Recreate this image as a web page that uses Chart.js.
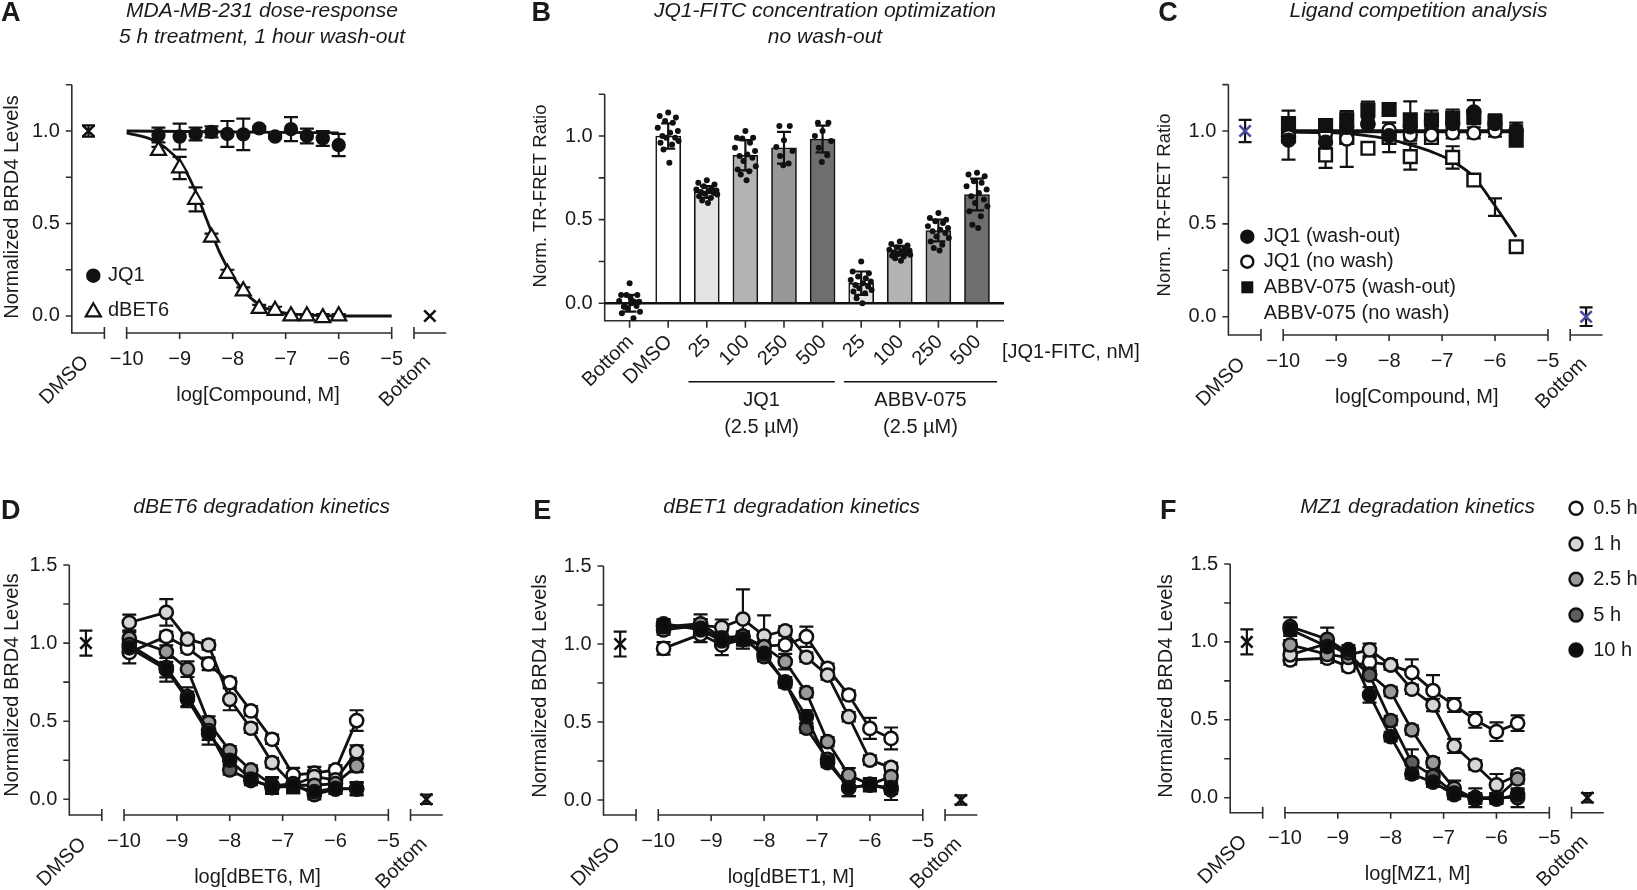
<!DOCTYPE html>
<html lang="en">
<head>
<meta charset="UTF-8">
<title>BRD4 degradation and TR-FRET panels</title>
<script src="https://cdn.jsdelivr.net/npm/chart.js"></script>
<style>
  body { margin: 0; background: #fff; }
  #page { position: relative; width: 1637px; height: 890px; background: #fff; overflow: hidden; }
  #page canvas { position: absolute; left: 0; top: 0; }
</style>
</head>
<body>
<div id="page">
  <canvas id="chartA" width="1637" height="890"></canvas>
  <canvas id="chartB" width="1637" height="890"></canvas>
  <canvas id="chartC" width="1637" height="890"></canvas>
  <canvas id="chartD" width="1637" height="890"></canvas>
  <canvas id="chartE" width="1637" height="890"></canvas>
  <canvas id="chartF" width="1637" height="890"></canvas>
</div>
<script>
// ---------------- data ----------------
// panel A
const aConc = [-9.4, -9.0, -8.7, -8.4, -8.1, -7.8, -7.5, -7.2, -6.9, -6.6, -6.3, -6.0];
const aJQ1 = [0.978, 0.97, 0.984, 0.995, 0.984, 0.982, 1.014, 0.97, 1.01, 0.973, 0.96, 0.924];
const aJQ1Err = [0.04, 0.07, 0.035, 0.03, 0.07, 0.085, 0.01, 0.01, 0.065, 0.04, 0.04, 0.06];
const aDBET6 = [0.894, 0.80, 0.63, 0.425, 0.23, 0.135, 0.04, 0.03, 0.0, 0.0, -0.01, 0.0];
const aDBET6Err = [0.02, 0.06, 0.065, 0.02, 0.02, 0.02, 0.02, 0.02, 0.01, 0.01, 0.02, 0.01];
const aFitJQ1X = [-10, -6];
const aFitJQ1Y = [1.0, 0.99];
const aFitDX = [-10, -9.5, -8.99, -8.74, -8.49, -8.24, -7.99, -7.67, -7.36, -6.98, -6.1, -5.0];
const aFitDY = [0.99, 0.95, 0.83, 0.70, 0.52, 0.34, 0.21, 0.10, 0.04, 0.015, 0.0, 0.0];
const aCtrl = [1.0, 0.0];
const aCtrlErr = [0.03, 0.0];

// panel B
const bLabels = ['Bottom', 'DMSO', '25', '100', '250', '500', '25', '100', '250', '500'];
const bMeans = [0.0, 1.0, 0.665, 0.885, 0.93, 0.982, 0.12, 0.315, 0.435, 0.65];
const bSD = [0.05, 0.075, 0.035, 0.09, 0.095, 0.08, 0.07, 0.028, 0.065, 0.095];
const dotsBottom = [0.12, 0.05, 0.05, 0.05, 0.01, 0.014, 0.01, 0.0, -0.02, -0.016, -0.03, -0.05, -0.06, -0.09, -0.02, 0.03];
const dotsDMSO = [1.14, 1.12, 1.11, 1.09, 1.08, 1.05, 1.03, 1.02, 1.0, 0.99, 0.99, 0.97, 0.96, 0.95, 0.92, 0.84];
const dotsJQ25 = [0.735, 0.72, 0.71, 0.70, 0.69, 0.68, 0.675, 0.67, 0.665, 0.66, 0.655, 0.65, 0.64, 0.63, 0.615, 0.60];
const dotsJQ100 = [1.03, 0.99, 0.99, 0.985, 0.96, 0.93, 0.91, 0.89, 0.88, 0.87, 0.85, 0.82, 0.80, 0.79, 0.77, 0.735];
const dotsJQ250 = [1.06, 1.06, 0.975, 0.935, 0.91, 0.88, 0.835, 0.825];
const dotsJQ500 = [1.08, 1.08, 1.03, 1.0, 0.97, 0.93, 0.885, 0.845];
const dotsAB25 = [0.25, 0.19, 0.18, 0.16, 0.15, 0.14, 0.13, 0.12, 0.11, 0.10, 0.09, 0.08, 0.07, 0.06, 0.03, 0.0];
const dotsAB100 = [0.37, 0.355, 0.345, 0.335, 0.33, 0.32, 0.315, 0.31, 0.305, 0.30, 0.295, 0.29, 0.285, 0.28, 0.27, 0.255];
const dotsAB250 = [0.54, 0.51, 0.50, 0.49, 0.48, 0.46, 0.45, 0.44, 0.43, 0.42, 0.40, 0.39, 0.37, 0.35, 0.33, 0.315];
const dotsAB500 = [0.78, 0.77, 0.76, 0.73, 0.72, 0.70, 0.68, 0.66, 0.64, 0.62, 0.60, 0.58, 0.55, 0.52, 0.47, 0.45];

// panel C
const cConc = [-9.9, -9.2, -8.8, -8.4, -8.0, -7.6, -7.2, -6.8, -6.4, -6.0, -5.6];
const cJQ1w = [0.951, 0.94, 1.02, 1.04, 0.975, 1.023, 1.05, 1.04, 1.103, 1.04, 1.005];
const cJQ1wErr = [0.105, 0.03, 0.03, 0.04, 0.03, 0.03, 0.03, 0.03, 0.063, 0.04, 0.04];
const cJQ1n = [0.97, 0.99, 0.957, 1.035, 1.005, 0.978, 0.978, 0.99, 0.99, 1.0, 1.0];
const cJQ1nErr = [0.03, 0.03, 0.15, 0.04, 0.04, 0.03, 0.03, 0.03, 0.03, 0.03, 0.03];
const cABw = [1.04, 1.03, 1.06, 1.113, 1.116, 1.06, 1.06, 1.07, 1.077, 1.05, 0.95];
const cABwErr = [0.07, 0.03, 0.045, 0.045, 0.03, 0.1, 0.05, 0.046, 0.04, 0.04, 0.03];
const cABn = [0.975, 0.871, 0.965, 0.907, 0.966, 0.862, 0.965, 0.858, 0.736, 0.59, 0.377];
const cABnErr = [0.03, 0.07, 0.03, 0.03, 0.08, 0.07, 0.03, 0.06, 0.02, 0.047, 0.02];
const cFitFlatX = [-10, -5.6];
const cFitJQ1w = [1.0, 1.0];
const cFitJQ1n = [0.995, 0.995];
const cFitABw = [1.0, 1.0];
const cFitABnX = [-10, -9.4, -8.87, -8.36, -7.98, -7.6, -7.17, -6.79, -6.41, -6.03, -5.6];
const cFitABnY = [0.995, 0.992, 0.988, 0.973, 0.955, 0.925, 0.885, 0.835, 0.755, 0.61, 0.43];
const cCtrl = [1.0, 0.0];
const cCtrlErr = [0.06, 0.05];

// panels D-F (kinetics)
const kinConc = [-9.9, -9.2, -8.8, -8.4, -8.0, -7.6, -7.2, -6.8, -6.4, -6.0, -5.6];
const kinTimes = ['0.5 h', '1 h', '2.5 h', '5 h', '10 h'];
const d05 = [0.94, 1.043, 0.968, 0.867, 0.747, 0.566, 0.384, 0.156, 0.167, 0.188, 0.504];
const d1 = [1.132, 1.197, 1.025, 0.988, 0.64, 0.455, 0.235, 0.092, 0.145, 0.124, 0.305];
const d25 = [1.03, 0.946, 0.833, 0.491, 0.31, 0.188, 0.092, 0.09, 0.09, 0.10, 0.214];
const d5 = [0.99, 0.843, 0.657, 0.44, 0.188, 0.12, 0.085, 0.10, 0.03, 0.065, 0.07];
const d10 = [0.97, 0.83, 0.64, 0.42, 0.25, 0.13, 0.075, 0.085, 0.05, 0.07, 0.065];
const d05Err = [0.07, 0.03, 0.03, 0.04, 0.03, 0.03, 0.03, 0.045, 0.04, 0.03, 0.066];
const d1Err = [0.05, 0.085, 0.03, 0.03, 0.07, 0.03, 0.03, 0.04, 0.04, 0.03, 0.04];
const d25Err = [0.04, 0.04, 0.05, 0.04, 0.03, 0.03, 0.05, 0.05, 0.03, 0.03, 0.04];
const d5Err = [0.04, 0.09, 0.06, 0.06, 0.03, 0.03, 0.05, 0.06, 0.03, 0.03, 0.04];
const d10Err = [0.04, 0.05, 0.05, 0.07, 0.03, 0.03, 0.03, 0.03, 0.03, 0.03, 0.04];
const dCtrl = [1.0, 0.0];
const dCtrlErr = [0.08, 0.03];

const e05 = [0.972, 1.062, 0.994, 1.03, 0.987, 0.994, 1.047, 0.844, 0.673, 0.459, 0.395];
const e1 = [1.09, 1.12, 1.107, 1.16, 1.053, 1.085, 0.915, 0.801, 0.534, 0.256, 0.209];
const e25 = [1.11, 1.13, 1.04, 1.05, 0.983, 0.887, 0.688, 0.374, 0.16, 0.10, 0.15];
const e5 = [1.12, 1.10, 1.03, 1.05, 0.919, 0.758, 0.46, 0.261, 0.075, 0.10, 0.065];
const e10 = [1.13, 1.09, 1.02, 1.03, 0.94, 0.75, 0.534, 0.24, 0.08, 0.095, 0.08];
const e05Err = [0.04, 0.05, 0.065, 0.04, 0.03, 0.03, 0.065, 0.03, 0.03, 0.067, 0.07];
const e1Err = [0.03, 0.04, 0.05, 0.19, 0.13, 0.03, 0.03, 0.03, 0.03, 0.03, 0.03];
const e25Err = [0.03, 0.06, 0.04, 0.03, 0.03, 0.05, 0.03, 0.03, 0.045, 0.03, 0.04];
const e5Err = [0.03, 0.06, 0.03, 0.03, 0.03, 0.03, 0.03, 0.03, 0.05, 0.04, 0.065];
const e10Err = [0.03, 0.04, 0.03, 0.03, 0.03, 0.03, 0.04, 0.03, 0.055, 0.04, 0.04];
const eCtrl = [1.0, 0.0];
const eCtrlErr = [0.08, 0.03];

const f05 = [0.884, 0.895, 0.841, 0.87, 0.852, 0.803, 0.687, 0.595, 0.499, 0.424, 0.478];
const f1 = [0.917, 0.99, 0.917, 0.949, 0.852, 0.696, 0.595, 0.332, 0.21, 0.082, 0.146];
const f25 = [0.981, 0.92, 0.90, 0.794, 0.681, 0.435, 0.225, 0.06, -0.01, 0.0, 0.12];
const f5 = [1.098, 1.017, 0.93, 0.788, 0.495, 0.225, 0.139, 0.03, 0.0, 0.0, 0.0];
const f10 = [1.08, 0.97, 0.95, 0.66, 0.392, 0.152, 0.10, 0.02, 0.0, -0.01, 0.02];
const f05Err = [0.03, 0.03, 0.03, 0.03, 0.03, 0.085, 0.1, 0.045, 0.05, 0.06, 0.05];
const f1Err = [0.03, 0.03, 0.03, 0.04, 0.03, 0.03, 0.04, 0.045, 0.03, 0.07, 0.03];
const f25Err = [0.03, 0.03, 0.06, 0.03, 0.03, 0.03, 0.03, 0.05, 0.03, 0.03, 0.03];
const f5Err = [0.06, 0.075, 0.03, 0.03, 0.03, 0.085, 0.03, 0.03, 0.06, 0.03, 0.06];
const f10Err = [0.03, 0.03, 0.03, 0.05, 0.03, 0.03, 0.03, 0.03, 0.03, 0.03, 0.03];
const fCtrl = [1.0, 0.0];
const fCtrlErr = [0.08, 0.03];

const xTickVals = [-10, -9, -8, -7, -6, -5];

// ---------------- layout / style ----------------
const PAGE_W = 1637, PAGE_H = 890;
const FONT = '"Liberation Sans", Arial, Helvetica, sans-serif';
const INK = '#1a1a1a';
const AXIS = '#2e2e2e';
// broken x axis (log units): DMSO block, -10..-5, Bottom block
const SEG = { min: -11.035, max: -3.97, dmsoEnd: -10.42, botStart: -4.58, dmsoX: -10.72, botX: -4.28 };
const kinFill = ['#ffffff', '#d6d6d6', '#9a9a9a', '#5e5e5e', '#0c0c0c'];
const jit16 = [0.0, -0.22, 0.2, -0.08, 0.12, -0.27, 0.25, 0.05, -0.15, 0.18, -0.05, 0.27, -0.2, 0.1, -0.12, 0.03];
const jit8 = [-0.12, 0.15, 0.0, -0.2, 0.22, -0.1, 0.12, -0.02];

const pts = (xs, ys) => xs.map((x, i) => ({ x: x, y: ys[i] }));

function text(ctx, s, x, y, o) {
  o = o || {};
  ctx.save();
  ctx.font = (o.style || 'normal') + ' ' + (o.weight || 'normal') + ' ' + (o.size || 20) + 'px ' + FONT;
  ctx.fillStyle = o.color || INK;
  ctx.textAlign = o.align || 'center';
  ctx.textBaseline = o.base || 'middle';
  ctx.translate(x, y);
  if (o.rot) ctx.rotate(o.rot);
  ctx.fillText(s, 0, 0);
  ctx.restore();
}

function drawErrors(chart) {
  const ctx = chart.ctx, xs = chart.scales.x, ys = chart.scales.y;
  chart.data.datasets.forEach(ds => {
    if (!ds.err) return;
    ctx.save();
    ctx.strokeStyle = '#111';
    ctx.lineWidth = ds.errWidth || 2.2;
    const w = ds.capW || 7;
    ds.data.forEach((p, i) => {
      const e = ds.err[i];
      if (!e) return;
      const x = xs.getPixelForValue(p.x);
      const y1 = ys.getPixelForValue(p.y + e), y2 = ys.getPixelForValue(p.y - e);
      ctx.beginPath();
      ctx.moveTo(x, y1); ctx.lineTo(x, y2);
      ctx.moveTo(x - w, y1); ctx.lineTo(x + w, y1);
      ctx.moveTo(x - w, y2); ctx.lineTo(x + w, y2);
      ctx.stroke();
    });
    ctx.restore();
  });
}

function yAxis(chart, yMax) {
  const ctx = chart.ctx, a = chart.chartArea, ys = chart.scales.y;
  ctx.save();
  ctx.strokeStyle = AXIS; ctx.lineWidth = 1.6;
  ctx.beginPath();
  ctx.moveTo(a.left, a.top); ctx.lineTo(a.left, a.bottom + 0.8);
  for (let k = 0; k * 0.25 <= yMax + 1e-6; k++) {
    const y = ys.getPixelForValue(k * 0.25);
    ctx.moveTo(a.left - 6, y); ctx.lineTo(a.left, y);
  }
  ctx.stroke();
  ctx.restore();
}

function yLabels(chart, yMax) {
  const a = chart.chartArea, ys = chart.scales.y;
  for (let k = 0; k * 0.5 <= yMax + 1e-6; k++) {
    text(chart.ctx, (k * 0.5).toFixed(1), a.left - 12, ys.getPixelForValue(k * 0.5), { align: 'right' });
  }
}

function headings(ctx, g) {
  text(ctx, g.letter, g.letterX, g.letterY, { weight: 'bold', size: 27, align: 'left', base: 'alphabetic' });
  g.title.forEach((t, i) => text(ctx, t, g.titleX, g.titleY + i * 26, { style: 'italic', size: 21, base: 'alphabetic' }));
  text(ctx, g.yTitle, g.yTitleX, g.yTitleY, { rot: -Math.PI / 2, size: g.yTitleSize || 20 });
}

function doseDecor(g) {
  return {
    id: 'doseDecor',
    beforeDatasetsDraw(chart) {
      const ctx = chart.ctx, a = chart.chartArea, xs = chart.scales.x;
      const px = v => xs.getPixelForValue(v);
      yAxis(chart, g.yMax);
      const b = a.bottom;
      ctx.save();
      ctx.strokeStyle = AXIS; ctx.lineWidth = 1.6;
      ctx.beginPath();
      ctx.moveTo(a.left, b); ctx.lineTo(px(SEG.dmsoEnd), b);
      ctx.moveTo(px(-10), b); ctx.lineTo(px(-5), b);
      ctx.moveTo(px(SEG.botStart), b); ctx.lineTo(a.right, b);
      [SEG.dmsoEnd, -10, -5, SEG.botStart].forEach(v => { ctx.moveTo(px(v), b - 6); ctx.lineTo(px(v), b + 6); });
      [-9, -8, -7, -6].forEach(v => { ctx.moveTo(px(v), b); ctx.lineTo(px(v), b + 6); });
      ctx.stroke();
      ctx.restore();
      drawErrors(chart);
    },
    afterDraw(chart) {
      const ctx = chart.ctx, a = chart.chartArea, xs = chart.scales.x;
      const px = v => xs.getPixelForValue(v);
      const b = a.bottom;
      yLabels(chart, g.yMax);
      xTickVals.forEach(t => text(ctx, '\u2212' + Math.abs(t), px(t), b + 26));
      const rot = -Math.PI / 4;
      text(ctx, 'DMSO', (a.left + px(SEG.dmsoEnd)) / 2 - 2.5, b + 26, { align: 'right', rot: rot });
      text(ctx, 'Bottom', (px(SEG.botStart) + a.right) / 2 - 2.5, b + 26, { align: 'right', rot: rot });
      text(ctx, g.xTitle, g.xTitleX, b + 62);
      headings(ctx, g);
      if (g.legend) g.legend(ctx);
    }
  };
}

function doseChart(id, g, datasets) {
  const bx = g.box;
  return new Chart(document.getElementById(id), {
    type: 'scatter',
    data: { datasets: datasets },
    options: {
      responsive: false, animation: false, events: [],
      layout: { padding: { left: bx[0], top: bx[1], right: PAGE_W - bx[2], bottom: PAGE_H - bx[3] } },
      plugins: { legend: { display: false }, tooltip: { enabled: false } },
      scales: {
        x: { type: 'linear', min: SEG.min, max: SEG.max, display: false },
        y: { type: 'linear', min: g.yMin, max: g.yMax, display: false }
      }
    },
    plugins: [doseDecor(g)]
  });
}

function markers(xs, ys, err, style) {
  return Object.assign({
    data: pts(xs, ys), err: err, showLine: false, clip: false, order: 1,
    pointRadius: 6, pointBorderWidth: 2.4, pointBorderColor: '#111', pointBackgroundColor: '#111'
  }, style);
}
function curve(xs, ys, style) {
  return Object.assign({
    data: pts(xs, ys), showLine: true, pointRadius: 0, borderColor: '#111', borderWidth: 2.8,
    cubicInterpolationMode: 'monotone', clip: false, order: 6
  }, style);
}
function controls(vals, err, color) {
  return {
    data: [{ x: SEG.dmsoX, y: vals[0] }, { x: SEG.botX, y: vals[1] }], err: err, capW: 6.5,
    showLine: false, clip: false, order: 0, pointStyle: 'crossRot', pointRadius: 8,
    pointBorderWidth: 2.6, pointBorderColor: color || '#111', pointBackgroundColor: 'rgba(0,0,0,0)'
  };
}
function kinetics(series, errs, ctrl, ctrlErr) {
  const sets = series.map((ys, k) => ({
    data: pts(kinConc, ys), err: errs[k], showLine: true, clip: false, order: 5 - k,
    borderColor: '#111', borderWidth: 2.8, pointRadius: 6.6, pointBorderWidth: 2.5,
    pointBorderColor: '#111', pointBackgroundColor: kinFill[k], label: kinTimes[k]
  }));
  sets.push(controls(ctrl, ctrlErr));
  return sets;
}

function legendCircle(ctx, x, y, r, fill) {
  ctx.save();
  ctx.beginPath(); ctx.arc(x, y, r, 0, Math.PI * 2);
  ctx.fillStyle = fill; ctx.fill();
  ctx.lineWidth = 2.4; ctx.strokeStyle = '#111'; ctx.stroke();
  ctx.restore();
}

// ---------------- panel A ----------------
doseChart('chartA', {
  box: [71.8, 84.75, 446.3, 333], yMin: -0.092, yMax: 1.25,
  letter: 'A', letterX: 1, letterY: 21, title: ['MDA-MB-231 dose-response', '5 h treatment, 1 hour wash-out'],
  titleX: 262, titleY: 17, yTitle: 'Normalized BRD4 Levels', yTitleX: 12, yTitleY: 207,
  xTitle: 'log[Compound, M]', xTitleX: 258,
  legend(ctx) {
    legendCircle(ctx, 93.3, 275.7, 6, '#111');
    text(ctx, 'JQ1', 108, 275.7, { align: 'left' });
    ctx.save();
    ctx.beginPath();
    const r = 8.7, cx = 93.3, cy = 312;
    ctx.moveTo(cx, cy - r); ctx.lineTo(cx + r * 0.866, cy + r / 2); ctx.lineTo(cx - r * 0.866, cy + r / 2); ctx.closePath();
    ctx.fillStyle = '#fff'; ctx.fill(); ctx.lineWidth = 2.2; ctx.strokeStyle = '#111'; ctx.stroke();
    ctx.restore();
    text(ctx, 'dBET6', 108, 310, { align: 'left' });
  }
}, [
  markers(aConc, aJQ1, aJQ1Err, { pointRadius: 6 }),
  markers(aConc, aDBET6, aDBET6Err, { pointStyle: 'triangle', pointRadius: 8.7, pointBorderWidth: 2.2, pointBackgroundColor: '#fff' }),
  curve(aFitJQ1X, aFitJQ1Y),
  curve(aFitDX, aFitDY),
  controls(aCtrl, aCtrlErr)
]);

// ---------------- panel B ----------------
(function () {
  const groups = [dotsBottom, dotsDMSO, dotsJQ25, dotsJQ100, dotsJQ250, dotsJQ500, dotsAB25, dotsAB100, dotsAB250, dotsAB500];
  const dots = [];
  groups.forEach((g, i) => g.forEach((v, j) => dots.push({ x: i + (g.length > 8 ? jit16[j] : jit8[j]), y: v })));
  const bFill = ['#ffffff', '#ffffff', '#e3e3e3', '#b3b3b3', '#989898', '#6e6e6e', '#e3e3e3', '#b3b3b3', '#989898', '#6e6e6e'];
  const box = [604.7, 94.2, 1004, 320.7];
  new Chart(document.getElementById('chartB'), {
    type: 'bar',
    data: {
      datasets: [
        { type: 'bar', data: bMeans.map((v, i) => ({ x: i, y: v })), err: bSD, capW: 7,
          backgroundColor: bFill, borderColor: '#111', borderWidth: 1.6, barThickness: 25, order: 2 },
        { type: 'scatter', data: dots, pointRadius: 3, pointBorderWidth: 0, pointBackgroundColor: '#111', order: 1, clip: false }
      ]
    },
    options: {
      responsive: false, animation: false, events: [],
      layout: { padding: { left: box[0], top: box[1], right: PAGE_W - box[2], bottom: PAGE_H - box[3] } },
      plugins: { legend: { display: false }, tooltip: { enabled: false } },
      scales: {
        x: { type: 'linear', min: -0.645, max: 9.70, offset: false, display: false },
        y: { type: 'linear', min: -0.104, max: 1.25, display: false }
      }
    },
    plugins: [{
      id: 'barDecor',
      beforeDatasetsDraw(chart) {
        const ctx = chart.ctx, a = chart.chartArea, xs = chart.scales.x;
        yAxis(chart, 1.25);
        ctx.save();
        ctx.strokeStyle = AXIS; ctx.lineWidth = 1.6;
        ctx.beginPath();
        ctx.moveTo(a.left, a.bottom); ctx.lineTo(a.right, a.bottom);
        bLabels.forEach((l, i) => { const x = xs.getPixelForValue(i); ctx.moveTo(x, a.bottom); ctx.lineTo(x, a.bottom + 7); });
        ctx.stroke();
        ctx.restore();
      },
      afterDatasetsDraw(chart) {
        const ctx = chart.ctx, a = chart.chartArea, ys = chart.scales.y;
        drawErrors(chart);
        ctx.save();
        ctx.strokeStyle = '#111'; ctx.lineWidth = 2.6;
        ctx.beginPath();
        ctx.moveTo(a.left, ys.getPixelForValue(0)); ctx.lineTo(a.right, ys.getPixelForValue(0));
        ctx.stroke();
        ctx.restore();
      },
      afterDraw(chart) {
        const ctx = chart.ctx, a = chart.chartArea, xs = chart.scales.x;
        yLabels(chart, 1.25);
        bLabels.forEach((l, i) => text(ctx, l, xs.getPixelForValue(i) + 1, a.bottom + 18, { align: 'right', rot: -Math.PI / 4 }));
        text(ctx, '[JQ1-FITC, nM]', 1002, 352, { align: 'left' });
        ctx.save();
        ctx.strokeStyle = '#111'; ctx.lineWidth = 1.6;
        ctx.beginPath();
        ctx.moveTo(688.5, 381.7); ctx.lineTo(834.8, 381.7);
        ctx.moveTo(843.9, 381.7); ctx.lineTo(997, 381.7);
        ctx.stroke();
        ctx.restore();
        text(ctx, 'JQ1', 761.6, 400);
        text(ctx, '(2.5 \u00b5M)', 761.6, 427);
        text(ctx, 'ABBV-075', 920.5, 400);
        text(ctx, '(2.5 \u00b5M)', 920.5, 427);
        headings(ctx, {
          letter: 'B', letterX: 531.5, letterY: 21, title: ['JQ1-FITC concentration optimization', 'no wash-out'],
          titleX: 825, titleY: 17, yTitle: 'Norm. TR-FRET Ratio', yTitleX: 540.6, yTitleY: 196, yTitleSize: 18.5
        });
      }
    }]
  });
})();

// ---------------- panel C ----------------
doseChart('chartC', {
  box: [1228.4, 84.6, 1602.5, 335], yMin: -0.0985, yMax: 1.25,
  letter: 'C', letterX: 1158.2, letterY: 21, title: ['Ligand competition analysis'],
  titleX: 1418.5, titleY: 17, yTitle: 'Norm. TR-FRET Ratio', yTitleX: 1165, yTitleY: 205, yTitleSize: 18.5,
  xTitle: 'log[Compound, M]', xTitleX: 1416.8,
  legend(ctx) {
    legendCircle(ctx, 1247.3, 236.7, 6, '#111');
    legendCircle(ctx, 1247.3, 261.7, 6, '#fff');
    ctx.save(); ctx.fillStyle = '#111'; ctx.fillRect(1241.3, 281.3, 12, 12); ctx.restore();
    text(ctx, 'JQ1 (wash-out)', 1263.7, 236.7, { align: 'left' });
    text(ctx, 'JQ1 (no wash)', 1263.7, 261.7, { align: 'left' });
    text(ctx, 'ABBV-075 (wash-out)', 1263.7, 287.3, { align: 'left' });
    text(ctx, 'ABBV-075 (no wash)', 1263.7, 313.3, { align: 'left' });
  }
}, [
  // the -6.0 open square is hidden in the original, only its error bar shows
  markers(cConc, cABn, cABnErr, { pointStyle: 'rect', pointRadius: ctx => (ctx.dataIndex === 9 ? 0 : 9), pointBackgroundColor: '#fff', order: 4 }),
  markers(cConc, cJQ1n, cJQ1nErr, { pointRadius: 6.5, pointBackgroundColor: '#fff', order: 3 }),
  markers(cConc, cABw, cABwErr, { pointStyle: 'rect', pointRadius: 9, order: 2 }),
  markers(cConc, cJQ1w, cJQ1wErr, { pointRadius: 6.5, order: 1 }),
  curve(cFitFlatX, cFitJQ1w),
  curve(cFitFlatX, cFitJQ1n),
  curve(cFitFlatX, cFitABw),
  curve(cFitABnX, cFitABnY),
  controls(cCtrl, cCtrlErr, '#4b4b9c')
]);

// ---------------- panels D, E, F ----------------
doseChart('chartD', {
  box: [69.3, 565, 442.8, 815], yMin: -0.1005, yMax: 1.5,
  letter: 'D', letterX: 1, letterY: 519, title: ['dBET6 degradation kinetics'],
  titleX: 261.7, titleY: 513, yTitle: 'Normalized BRD4 Levels', yTitleX: 12, yTitleY: 685,
  xTitle: 'log[dBET6, M]', xTitleX: 257.5
}, kinetics([d05, d1, d25, d5, d10], [d05Err, d1Err, d25Err, d5Err, d10Err], dCtrl, dCtrlErr));

doseChart('chartE', {
  box: [603.5, 566, 977.3, 815], yMin: -0.096, yMax: 1.5,
  letter: 'E', letterX: 533.3, letterY: 519, title: ['dBET1 degradation kinetics'],
  titleX: 791.7, titleY: 513, yTitle: 'Normalized BRD4 Levels', yTitleX: 540, yTitleY: 686,
  xTitle: 'log[dBET1, M]', xTitleX: 791
}, kinetics([e05, e1, e25, e5, e10], [e05Err, e1Err, e25Err, e5Err, e10Err], eCtrl, eCtrlErr));

doseChart('chartF', {
  box: [1230.2, 564, 1603.8, 812.7], yMin: -0.0963, yMax: 1.5,
  letter: 'F', letterX: 1160, letterY: 519, title: ['MZ1 degradation kinetics'],
  titleX: 1417.6, titleY: 513, yTitle: 'Normalized BRD4 Levels', yTitleX: 1166.8, yTitleY: 686,
  xTitle: 'log[MZ1, M]', xTitleX: 1417.6,
  legend(ctx) {
    const rows = [508.3, 544, 579.3, 615, 650];
    kinTimes.forEach((t, k) => {
      legendCircle(ctx, 1576, rows[k], 6.5, kinFill[k]);
      text(ctx, t, 1593.2, rows[k], { align: 'left' });
    });
  }
}, kinetics([f05, f1, f25, f5, f10], [f05Err, f1Err, f25Err, f5Err, f10Err], fCtrl, fCtrlErr));
</script>
</body>
</html>
